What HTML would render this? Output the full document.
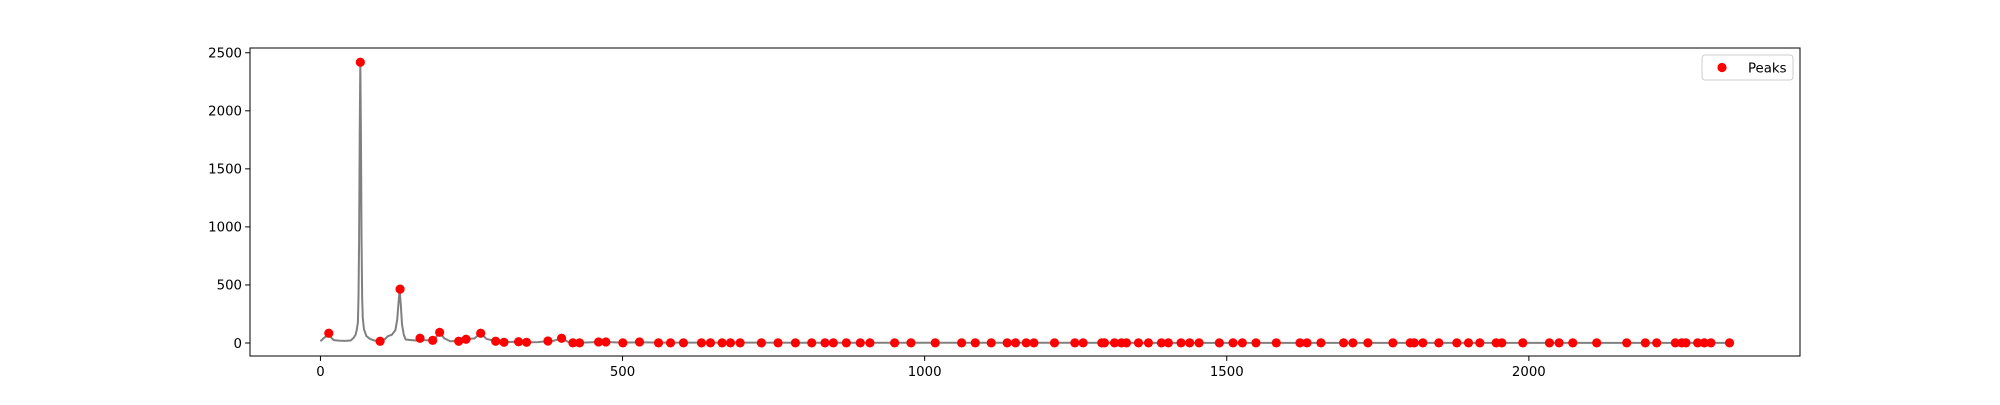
<!DOCTYPE html>
<html><head><meta charset="utf-8"><style>
body{margin:0;background:#fff;width:2000px;height:400px;overflow:hidden}
text{font-family:"DejaVu Sans","Liberation Sans",sans-serif;font-size:13.3px;fill:#000}
</style></head><body>
<svg id="chart" width="2000" height="400" xmlns="http://www.w3.org/2000/svg">
<rect x="0" y="0" width="2000" height="400" fill="#fff"/>
<g id="plot"></g>
<g id="axes"></g>
</svg>
<script>
const lineX=[0,5,10,14,18,22,30,40,50,55,58,60,62,63,64,65,66,67,68,69,70,72,76,82,90,100,106,112,118,124,127,129,131,133,135,138,141,150,160,165,170,185,190,197,205,215,229,241,255,265,275,290,304,328,341,360,377,385,399,410,418,429,460,472,500,528,560,600,700,800,900,1000,1200,1400,1600,1800,2000,2200,2332];
const lineY=[15,40,60,84,45,25,20,18,22,45,70,110,180,400,900,1800,2418,1800,900,400,220,120,60,35,20,15,30,60,70,110,200,330,464,330,160,70,30,25,20,41,25,23,40,92,40,15,18,32,40,84,35,15,8,11,6,8,17,18,41,10,2,2,9,9,3,6,3,3,3,2,2,2,2,1,1,1,1,1,1];
const peakX=[13.8,66,98.7,131.8,164.8,185.8,197.3,228.8,241,265.2,290,303.8,327.9,341.1,376.5,399.1,417.8,428.9,460.3,472.4,500.5,528.1,559.5,579.4,600.8,630.6,645.5,664.8,678.6,694.6,729.8,757.4,786.1,813.1,835.1,848.9,870.4,893.5,909.5,950.3,977.4,1017.5,1061.2,1083.8,1110.2,1136.6,1150.4,1168.1,1180.8,1214.9,1248.6,1262.3,1293.2,1297.6,1314.2,1325.7,1334.1,1353.9,1370.4,1391.9,1403.4,1424.4,1438.7,1454.2,1487.8,1510.4,1525.8,1548.4,1582,1621.2,1632.8,1655.9,1693.4,1708.8,1733.6,1775,1803.7,1810.3,1824.6,1851,1880.8,1900.1,1918.9,1945.9,1955.3,1990,2034.1,2050.1,2072.7,2112.3,2162,2192.8,2211.6,2242.5,2253,2260.1,2279.4,2290.4,2301.4,2332.2];
const peakY=[84,2418,15,464,41,23,92,15,32,84,15,6,11,6,17,41,1,1,9,9,1,9,1,1,1,1,1,1,1,1,1,1,1,1,1,1,1,1,1,1,1,1,1,1,1,1,1,1,1,1,1,1,1,1,1,1,1,1,1,1,1,1,1,1,1,1,1,1,1,1,1,1,1,1,1,1,1,1,1,1,1,1,1,1,1,1,1,1,1,1,1,1,1,1,1,1,1,1,1,1];
const xTicks=[0,500,1000,1500,2000];
const yTicks=[0,500,1000,1500,2000,2500];
const L=250,R=1800,T=48,B=356;
const xMin=-116.6,xMax=2448.8,yMin=-112,yMax=2541;
const sx=v=>L+(v-xMin)/(xMax-xMin)*(R-L);
const sy=v=>B-(v-yMin)/(yMax-yMin)*(B-T);
const NS='http://www.w3.org/2000/svg';
const plot=document.getElementById('plot'),axes=document.getElementById('axes');
function mk(t,a,p){const e=document.createElementNS(NS,t);for(const k in a)e.setAttribute(k,a[k]);p.appendChild(e);return e;}
const line=mk('polyline',{points:lineX.map((x,i)=>sx(x)+','+sy(lineY[i])).join(' '),fill:'none',stroke:'#808080','stroke-width':2,'stroke-linejoin':'round'},plot);


peakX.forEach((x,i)=>{const c=mk('circle',{cx:sx(x),cy:sy(peakY[i]),r:4.6,fill:'#ff0000'},plot);

});
const frame=mk('rect',{x:L,y:T,width:R-L,height:B-T,fill:'none',stroke:'#000','stroke-width':1},axes);


xTicks.forEach(v=>{const x=sx(v);mk('line',{x1:x,x2:x,y1:B,y2:B+4.9,stroke:'#000'},axes);
const t=mk('text',{x:x,y:B+20,'text-anchor':'middle'},axes);t.textContent=v;

});
yTicks.forEach(v=>{const y=sy(v);mk('line',{x1:L-4.9,x2:L,y1:y,y2:y,stroke:'#000'},axes);
const t=mk('text',{x:L-8,y:y+4.8,'text-anchor':'end'},axes);t.textContent=v;

});
const lg=mk('g',{},axes);


mk('rect',{x:1702,y:55,width:91,height:25,rx:3,fill:'#fff',stroke:'#ccc'},lg);
mk('circle',{cx:1722,cy:67.5,r:4.6,fill:'#ff0000'},lg);
const lt=mk('text',{x:1748,y:72.3},lg);lt.textContent='Peaks';


</script>
</body></html>
